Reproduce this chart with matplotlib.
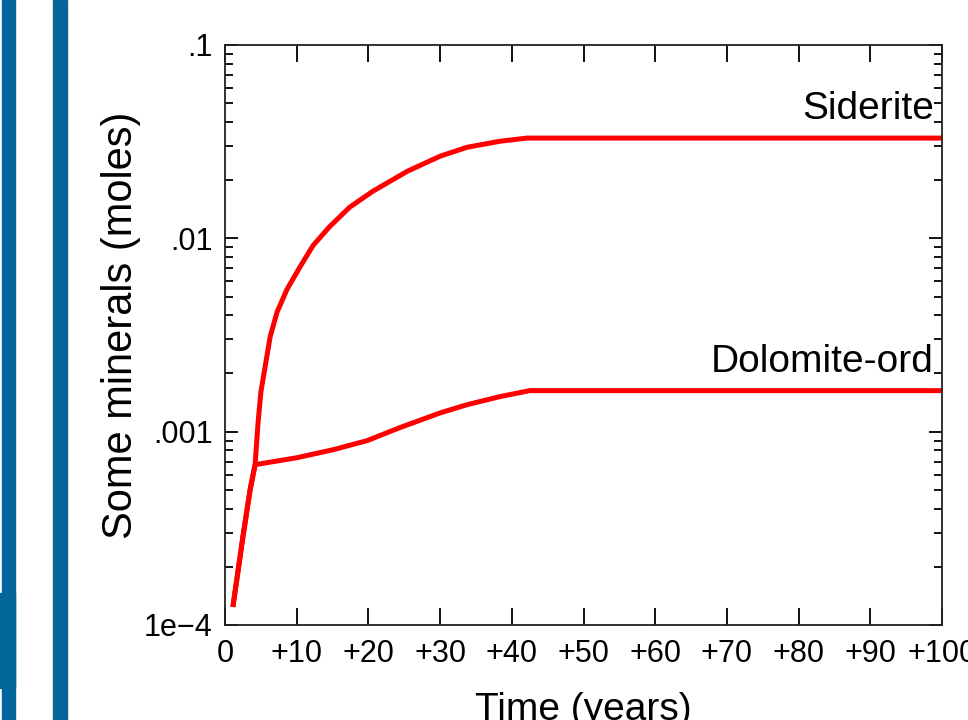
import matplotlib
matplotlib.use('Agg')
import matplotlib.pyplot as plt
from matplotlib.patches import Rectangle
from matplotlib.ticker import FixedLocator, FixedFormatter, LogLocator, NullFormatter

plt.rcParams['font.family'] = ['Liberation Sans', 'DejaVu Sans']

# 時間 (年) 與兩種礦物的量 (moles)
siderite_t = [1.1, 2.5, 3.5, 4.2, 4.6, 5.0, 5.6, 6.3, 7.25, 8.65, 10.5, 12.3,
              14.6, 17.4, 20.6, 25.4, 30.0, 33.8, 38.4, 42.1, 100]
siderite_mol = [1.24e-4, 2.86e-4, 5.0e-4, 6.75e-4, 1.1e-3, 1.6e-3, 2.17e-3,
                3.1e-3, 4.14e-3, 5.45e-3, 7.16e-3, 9.2e-3, 1.15e-2, 1.45e-2,
                1.75e-2, 2.22e-2, 2.66e-2, 2.96e-2, 3.18e-2, 3.30e-2, 3.30e-2]

dolomite_t = [1.1, 2.5, 3.5, 4.2, 10.0, 15.1, 19.8, 24.4, 30.0, 33.8, 38.4,
              42.5, 100]
dolomite_mol = [1.24e-4, 2.86e-4, 5.0e-4, 6.75e-4, 7.33e-4, 8.07e-4, 8.98e-4,
                1.05e-3, 1.25e-3, 1.38e-3, 1.52e-3, 1.63e-3, 1.63e-3]

xtick_vals = [0, 10, 20, 30, 40, 50, 60, 70, 80, 90, 100]
xtick_labels = ['0', '+10', '+20', '+30', '+40', '+50', '+60', '+70', '+80',
                '+90', '+100']
ytick_vals = [1e-4, 1e-3, 1e-2, 1e-1]
ytick_labels = ['1e\u22124', '.001', '.01', '.1']

fig = plt.figure(figsize=(9.68, 7.2), dpi=100)
ax = fig.add_axes([225 / 968, 95 / 720, 717 / 968, 580 / 720])

# 左邊的藍色豎條
blue = '#03669a'
fig.patches.append(Rectangle((2 / 968, 0), 13 / 968, 1, transform=fig.transFigure,
                             color=blue, zorder=0))
fig.patches.append(Rectangle((0, 32 / 720), 15 / 968, 95 / 720,
                             transform=fig.transFigure, color=blue, zorder=0))
fig.patches.append(Rectangle((53 / 968, 0), 14 / 968, 1, transform=fig.transFigure,
                             color=blue, zorder=0))

red = '#ff0000'
ax.plot(siderite_t, siderite_mol, color=red, lw=3.6, solid_capstyle='butt',
        solid_joinstyle='round', clip_on=False)
ax.plot(dolomite_t, dolomite_mol, color=red, lw=3.6, solid_capstyle='butt',
        solid_joinstyle='round', clip_on=False)

ax.annotate('Siderite', (siderite_t[-1], siderite_mol[-1]), xytext=(-6, 13.5),
            textcoords='offset points', ha='right', va='baseline', fontsize=28)
ax.annotate('Dolomite-ord', (dolomite_t[-1], dolomite_mol[-1]), xytext=(-6, 13.5),
            textcoords='offset points', ha='right', va='baseline', fontsize=28)

ax.set_yscale('log')
ax.set_xlim(0, 100)
ax.set_ylim(1e-4, 1e-1)

ax.xaxis.set_major_locator(FixedLocator(xtick_vals))
ax.xaxis.set_major_formatter(FixedFormatter(xtick_labels))
ax.yaxis.set_major_locator(FixedLocator(ytick_vals))
ax.yaxis.set_major_formatter(FixedFormatter(ytick_labels))
ax.yaxis.set_minor_locator(LogLocator(base=10, subs=range(2, 10)))
ax.yaxis.set_minor_formatter(NullFormatter())

ax.tick_params(axis='x', which='major', direction='in', length=12.5, width=1.3,
               top=True, labelsize=22, pad=10)
ax.tick_params(axis='y', which='major', direction='in', length=9.5, width=1.3,
               right=True, labelsize=22, pad=9)
ax.tick_params(axis='y', which='minor', direction='in', length=5.5, width=1.3,
               right=True)
for s in ax.spines.values():
    s.set_linewidth(1.3)
    s.set_color('#222222')

ax.set_xlabel('Time (years)', fontsize=28, labelpad=17)
ax.set_ylabel('Some minerals (moles)', fontsize=30)
ax.yaxis.set_label_coords(-0.117, 0.517)

fig.savefig('out.png', dpi=100)
